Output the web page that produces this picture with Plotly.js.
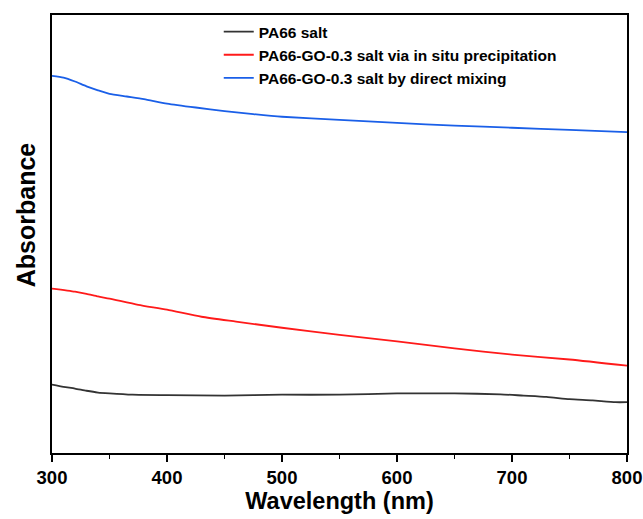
<!DOCTYPE html>
<html>
<head>
<meta charset="utf-8">
<script src="https://cdn.plot.ly/plotly-3.0.1.min.js"></script>
<style>html,body{margin:0;padding:0;background:#fff;}#chart{width:643px;height:519px;}</style>
</head>
<body>
<div id="chart"></div>
<script>
// Series data (wavelength in nm, absorbance in arbitrary units)
const seriesNames = [
  "PA66 salt",
  "PA66-GO-0.3 salt via in situ precipitation",
  "PA66-GO-0.3 salt by direct mixing"
];
const wlBlack = [300,310,320,330,340,350,370,400,450,500,550,600,650,690,710,730,750,770,790,800];
const absBlack = [0.161,0.156,0.152,0.147,0.143,0.141,0.138,0.137,0.136,0.138,0.138,0.141,0.141,0.139,0.136,0.133,0.128,0.125,0.121,0.121];
const wlRed = [300,320,330,340,350,375,400,430,460,500,550,600,650,700,750,800];
const absRed = [0.379,0.372,0.367,0.361,0.356,0.342,0.331,0.315,0.304,0.290,0.274,0.259,0.243,0.229,0.218,0.204];
const wlBlue = [300,310,320,330,340,350,365,380,400,425,450,475,500,550,600,650,700,750,800];
const absBlue = [0.862,0.858,0.849,0.838,0.829,0.821,0.815,0.809,0.799,0.790,0.782,0.775,0.769,0.762,0.755,0.749,0.744,0.739,0.734];
const xTicks = [300,400,500,600,700,800];

const colors = ["#333333", "#ff1a1a", "#1a5fe8"];
const xs = [wlBlack, wlRed, wlBlue];
const ys = [absBlack, absRed, absBlue];

const traces = seriesNames.map((n, i) => ({
  x: xs[i], y: ys[i], name: n, type: "scatter", mode: "lines",
  line: {color: colors[i], width: 1.8, shape: "spline", smoothing: 0.6}
}));

const fontFam = "Liberation Sans, Arial, sans-serif";
const layout = {
  width: 643, height: 519,
  margin: {l: 51.5, r: 16, t: 15, b: 65.5},
  paper_bgcolor: "#fff", plot_bgcolor: "#fff",
  font: {family: fontFam, color: "#000"},
  showlegend: true,
  legend: {
    x: 0.290, y: 1.0, xanchor: "left", yanchor: "top",
    bgcolor: "rgba(0,0,0,0)", borderwidth: 0,
    font: {family: fontFam, size: 15.5, weight: "bold", color: "#000"},
    tracegroupgap: 0
  },
  xaxis: {
    range: [300, 800], tickvals: xTicks, ticktext: xTicks.map(String),
    ticks: "outside", ticklen: 7, tickwidth: 1.5, tickcolor: "#000",
    ticklabelstandoff: 0,
    minor: {dtick: 50, tick0: 300, ticks: "outside", ticklen: 4, tickwidth: 1.5, tickcolor: "#000", showgrid: false},
    showline: true, linecolor: "#000", linewidth: 2, mirror: true,
    showgrid: false, zeroline: false,
    tickfont: {family: fontFam, size: 18.5, weight: "bold", color: "#000"},
    title: {text: "Wavelength (nm)", font: {family: fontFam, size: 23.5, weight: "bold", color: "#000"}, standoff: 4}
  },
  yaxis: {
    range: [0.0057, 1.0], showticklabels: false, ticks: "",
    showline: true, linecolor: "#000", linewidth: 2, mirror: true,
    showgrid: false, zeroline: false
  },
  annotations: [{
    text: "Absorbance", textangle: -90, xref: "paper", yref: "paper",
    x: -0.046, y: 0.544, xanchor: "center", yanchor: "middle", showarrow: false,
    font: {family: fontFam, size: 25, weight: "bold", color: "#000"}
  }]
};

Plotly.newPlot("chart", traces, layout, {displayModeBar: false, staticPlot: true});
</script>
</body>
</html>
